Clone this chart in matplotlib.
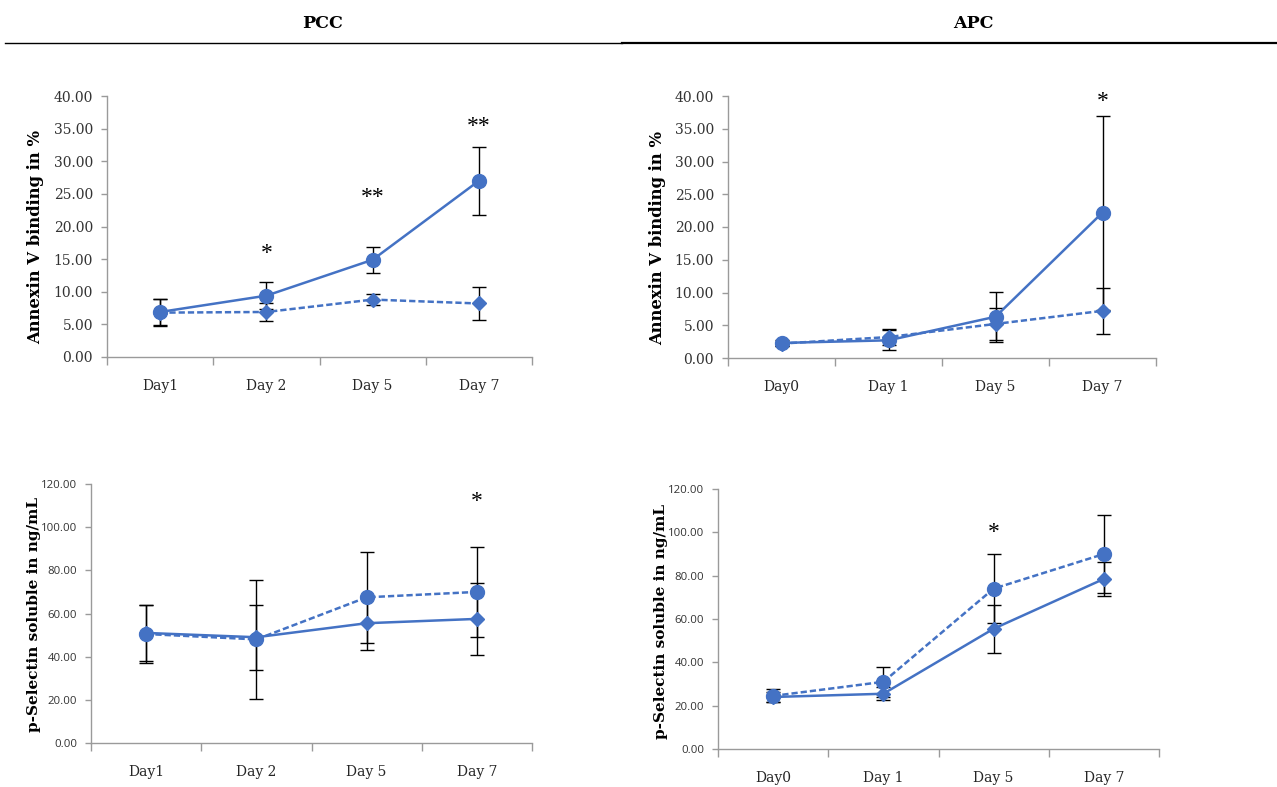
import matplotlib
matplotlib.use("Agg")
import matplotlib.pyplot as plt
from matplotlib.lines import Line2D

W, H = 1277, 787
BLUE = '#4472C4'
AXIS_GREY = '#9a9a9a'
SERIF = 'DejaVu Serif'
STAR_FONT = 'Liberation Serif'

# ---- data ----
pcc_days = ['Day1', 'Day 2', 'Day 5', 'Day 7']
apc_days = ['Day0', 'Day 1', 'Day 5', 'Day 7']

# Annexin V binding in %
pcc_annex_circ = [6.9, 9.4, 14.9, 27.0]
pcc_annex_circ_err = [2.0, 2.1, 2.0, 5.2]
pcc_annex_diam = [6.8, 6.9, 8.8, 8.2]
pcc_annex_diam_err = [2.1, 1.4, 0.9, 2.5]
pcc_annex_stars = [(1, '*', 15.9), (2, '**', 24.4), (3, '**', 35.4)]

apc_annex_circ = [2.3, 2.7, 6.3, 22.2]
apc_annex_circ_err = [0.4, 1.5, 3.8, 14.8]
apc_annex_diam = [2.2, 3.2, 5.2, 7.2]
apc_annex_diam_err = [0.3, 1.2, 2.5, 3.5]
apc_annex_stars = [(3, '*', 39.2)]

# p-Selectin soluble in ng/mL
pcc_psel_circ = [50.5, 48.0, 67.5, 70.0]
pcc_psel_circ_err = [13.5, 27.5, 21.0, 21.0]
pcc_psel_diam = [51.0, 49.0, 55.5, 57.5]
pcc_psel_diam_err = [13.0, 15.0, 12.5, 16.5]
pcc_psel_stars = [(3, '*', 111.7)]

apc_psel_circ = [24.5, 31.0, 74.0, 90.0]
apc_psel_circ_err = [3.0, 7.0, 16.0, 18.0]
apc_psel_diam = [24.0, 25.5, 55.5, 78.5]
apc_psel_diam_err = [2.5, 3.0, 11.0, 8.0]
apc_psel_stars = [(2, '*', 99.7)]


def px_rect(left, top, right, bottom):
	return [left / W, 1 - bottom / H, (right - left) / W, (bottom - top) / H]


def draw_panel(ax, days, circ, circ_err, diam, diam_err, circ_ls, diam_ls,
		ymax, ystep, stars, small_ticks=False):
	x = list(range(len(days)))
	# error bars sit behind the markers
	ax.errorbar(x, circ, yerr=circ_err, fmt='none', ecolor='black',
		elinewidth=1.0, capsize=5, capthick=1.0, zorder=2)
	ax.errorbar(x, diam, yerr=diam_err, fmt='none', ecolor='black',
		elinewidth=1.0, capsize=5, capthick=1.0, zorder=2)
	for vals, ls, mk, ms in ((diam, diam_ls, 'D', 7), (circ, circ_ls, 'o', 10)):
		line = Line2D(x, vals, color=BLUE, lw=1.8, marker=mk, markersize=ms,
			markeredgecolor=BLUE, markerfacecolor=BLUE, zorder=3)
		if ls == 'dashed':
			line.set_dashes([2.5, 1.2])
		ax.add_line(line)

	ax.set_xlim(-0.5, len(days) - 0.5)
	ax.set_ylim(0, ymax)
	yt = [i * ystep for i in range(int(round(ymax / ystep)) + 1)]
	ax.set_yticks(yt)
	ax.set_yticklabels(['%.2f' % v for v in yt])

	# category boundaries as major ticks, labels on minor ticks
	ax.set_xticks([i - 0.5 for i in range(len(days) + 1)])
	ax.set_xticklabels([])
	ax.set_xticks(x, minor=True)
	ax.set_xticklabels(days, minor=True, fontfamily=SERIF, fontsize=10,
		color='#262626')
	ax.tick_params(axis='x', which='major', direction='out', length=6,
		color=AXIS_GREY, width=1)
	ax.tick_params(axis='x', which='minor', length=0, pad=16)
	ax.tick_params(axis='y', direction='out', length=4, color=AXIS_GREY,
		width=1, pad=6)
	for lab in ax.get_yticklabels():
		if small_ticks:
			lab.set_fontfamily('Open Sans')
			lab.set_fontsize(8.2)
		else:
			lab.set_fontfamily(SERIF)
			lab.set_fontsize(10)
		lab.set_color('#333333')

	for side in ('top', 'right'):
		ax.spines[side].set_visible(False)
	for side in ('left', 'bottom'):
		ax.spines[side].set_color(AXIS_GREY)
		ax.spines[side].set_linewidth(1)

	for xi, mark, yv in stars:
		ax.text(xi, yv, mark, ha='center', va='center', fontfamily=STAR_FONT,
			fontsize=17, color='black', clip_on=False)


fig = plt.figure(figsize=(W / 100, H / 100), dpi=100)

ax1 = fig.add_axes(px_rect(107, 96, 532, 357))
draw_panel(ax1, pcc_days, pcc_annex_circ, pcc_annex_circ_err, pcc_annex_diam,
	pcc_annex_diam_err, 'solid', 'dashed', 40, 5, pcc_annex_stars)

ax2 = fig.add_axes(px_rect(728, 96, 1156, 358))
draw_panel(ax2, apc_days, apc_annex_circ, apc_annex_circ_err, apc_annex_diam,
	apc_annex_diam_err, 'solid', 'dashed', 40, 5, apc_annex_stars)

ax3 = fig.add_axes(px_rect(91, 484, 532, 743))
draw_panel(ax3, pcc_days, pcc_psel_circ, pcc_psel_circ_err, pcc_psel_diam,
	pcc_psel_diam_err, 'dashed', 'solid', 120, 20, pcc_psel_stars, small_ticks=True)

ax4 = fig.add_axes(px_rect(718, 489, 1159, 749))
draw_panel(ax4, apc_days, apc_psel_circ, apc_psel_circ_err, apc_psel_diam,
	apc_psel_diam_err, 'dashed', 'solid', 120, 20, apc_psel_stars, small_ticks=True)

# y axis titles
ylab_kw = dict(rotation=90, ha='center', va='center', fontfamily=SERIF,
	fontweight='bold', color='black')
fig.text(36 / W, 1 - 237 / H, 'Annexin V binding in %', fontsize=11.8, **ylab_kw)
fig.text(658 / W, 1 - 238 / H, 'Annexin V binding in %', fontsize=11.8, **ylab_kw)
fig.text(34 / W, 1 - 614 / H, 'p-Selectin soluble in ng/mL', fontsize=11, **ylab_kw)
fig.text(661 / W, 1 - 621 / H, 'p-Selectin soluble in ng/mL', fontsize=11, **ylab_kw)

# table-like header
fig.text(323 / W, 1 - 23 / H, 'PCC', ha='center', va='center', fontfamily=SERIF,
	fontweight='bold', fontsize=12.5)
fig.text(973 / W, 1 - 23 / H, 'APC', ha='center', va='center', fontfamily=SERIF,
	fontweight='bold', fontsize=12.5)
fig.add_artist(Line2D([5 / W, 622 / W], [1 - 43 / H, 1 - 43 / H], color='black',
	lw=1.0, transform=fig.transFigure))
fig.add_artist(Line2D([622 / W, 1277 / W], [1 - 43 / H, 1 - 43 / H], color='black',
	lw=1.6, transform=fig.transFigure))

fig.savefig('out.png', dpi=100)
